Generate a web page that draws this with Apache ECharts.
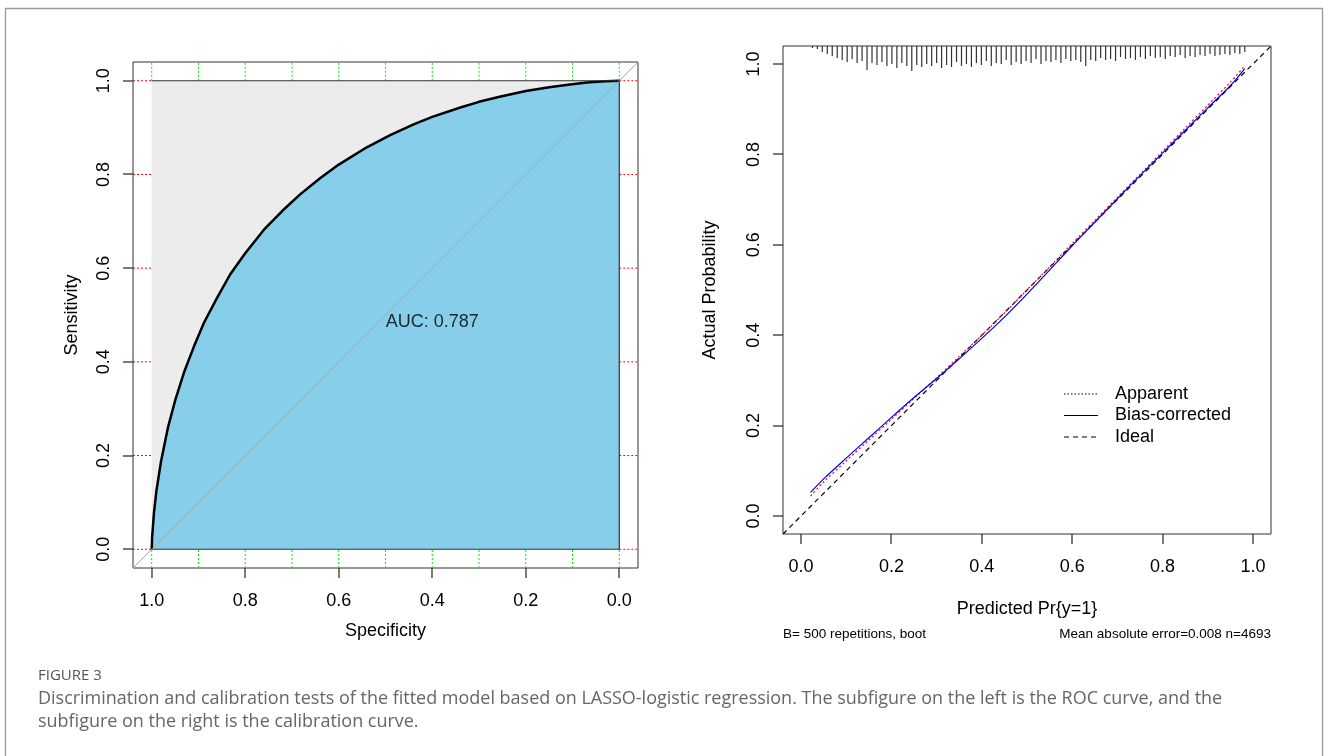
<!DOCTYPE html>
<html>
<head>
<meta charset="utf-8">
<script src="https://cdn.jsdelivr.net/npm/echarts@6/dist/echarts.min.js"></script>
<style>
  html, body { margin: 0; padding: 0; background: #fff; }
  #chart { width: 1328px; height: 756px; }
</style>
</head>
<body>
<div id="chart"></div>
<script>
// ---------------- DATA ----------------
// ROC curve (left panel): specificity (x, reversed) and sensitivity (y)
const rocSpec = [1.000,0.999,0.995,0.990,0.980,0.965,0.950,0.930,0.910,0.888,0.860,0.832,0.800,0.760,0.720,0.682,0.640,0.600,0.540,0.490,0.440,0.400,0.340,0.300,0.256,0.200,0.150,0.114,0.070,0.030,0.000];
const rocSens = [0.000,0.027,0.080,0.124,0.188,0.261,0.317,0.380,0.432,0.484,0.537,0.587,0.632,0.682,0.723,0.758,0.792,0.821,0.858,0.884,0.907,0.923,0.943,0.955,0.966,0.978,0.986,0.991,0.996,0.999,1.000];
const aucText = 'AUC: 0.787';

// Calibration curve (right panel)
const calPred     = [0.021,0.05,0.10,0.15,0.20,0.25,0.30,0.35,0.40,0.45,0.50,0.55,0.60,0.65,0.70,0.75,0.80,0.85,0.90,0.95,0.982];
const apparentY   = [0.044,0.075,0.122,0.168,0.214,0.260,0.306,0.353,0.400,0.449,0.500,0.551,0.603,0.654,0.705,0.756,0.807,0.858,0.909,0.960,0.996];
const biasCorrY   = [0.052,0.082,0.128,0.173,0.218,0.262,0.304,0.348,0.393,0.440,0.491,0.544,0.598,0.650,0.702,0.753,0.803,0.853,0.903,0.952,0.990];

// Rug (distribution of predicted probabilities) along the top of the calibration plot
const rugX = [0.025,0.036,0.047,0.058,0.069,0.080,0.091,0.102,0.113,0.124,0.135,0.146,0.157,0.168,0.179,0.190,0.201,0.212,0.223,0.234,0.245,0.256,0.267,0.278,0.289,0.300,0.311,0.322,0.333,0.344,0.355,0.366,0.377,0.388,0.399,0.410,0.421,0.432,0.443,0.454,0.465,0.476,0.487,0.498,0.509,0.520,0.531,0.542,0.553,0.564,0.575,0.586,0.597,0.608,0.619,0.630,0.641,0.652,0.663,0.674,0.685,0.696,0.707,0.718,0.729,0.740,0.751,0.762,0.773,0.784,0.795,0.806,0.817,0.828,0.839,0.850,0.861,0.872,0.883,0.894,0.905,0.916,0.927,0.938,0.949,0.960,0.971,0.982];
const rugFreq = [2,3,6,8,10,12,14,16,13,17,15,24,17,19,16,20,18,22,17,20,25,19,21,18,20,17,22,19,21,16,20,18,21,17,19,15,20,17,18,14,19,16,18,15,17,13,18,15,16,14,17,13,15,14,16,20,14,15,12,14,13,15,11,13,12,14,11,13,10,12,11,13,10,11,9,12,10,11,9,10,8,10,9,8,9,7,8,6];

// Tick labels / grid marks
const axisTicks = [0, 0.2, 0.4, 0.6, 0.8, 1.0];
const greenGrid = [0, 0.1, 0.2, 0.3, 0.4, 0.5, 0.6, 0.7, 0.8, 0.9, 1.0];
const redGrid   = [0, 0.2, 0.4, 0.6, 0.8, 1.0];

const legendItems = ['Apparent', 'Bias-corrected', 'Ideal'];
const footLeft  = 'B= 500 repetitions, boot';
const footRight = 'Mean absolute error=0.008 n=4693';
const captionTitle = 'FIGURE 3';
const captionLine1 = 'Discrimination and calibration tests of the fitted model based on LASSO-logistic regression. The subfigure on the left is the ROC curve, and the';
const captionLine2 = 'subfigure on the right is the calibration curve.';

// ---------------- LAYOUT / STYLE ----------------
const FONT = "'Liberation Sans', Arial, Helvetica, sans-serif";
const LO = -0.04, HI = 1.04;
const RUG_UNIT = 0.00221;
const TICK_LEN = 10;
const GRIDS = [
  { left: 133, top: 62, width: 505, height: 506, xInverse: true },
  { left: 783, top: 46, width: 488, height: 488, xInverse: false }
];

function mkXAxis(gi, inverse, name, gap) {
  return {
    type: 'value', gridIndex: gi, min: LO, max: HI, inverse: inverse,
    name: name, nameLocation: 'middle', nameGap: gap,
    nameTextStyle: { fontSize: 18, color: '#000', fontFamily: FONT },
    axisLine: { show: false, onZero: false },
    splitLine: { show: false },
    axisTick: { show: false },
    axisLabel: { show: true, customValues: axisTicks, margin: 24, fontSize: 18, color: '#000', fontFamily: FONT,
                 formatter: v => Number(v).toFixed(1) }
  };
}
function mkYAxis(gi, name, gap) {
  return {
    type: 'value', gridIndex: gi, min: LO, max: HI,
    name: name, nameLocation: 'middle', nameGap: gap,
    nameTextStyle: { fontSize: 18, color: '#000', fontFamily: FONT },
    axisLine: { show: false, onZero: false },
    splitLine: { show: false },
    axisTick: { show: false },
    axisLabel: { show: true, customValues: axisTicks, margin: 20, rotate: 90, fontSize: 18, color: '#000', fontFamily: FONT,
                 formatter: v => Number(v).toFixed(1) }
  };
}

function seg(p1, p2, stroke, dash, w) {
  return { type: 'line', shape: { x1: p1[0], y1: p1[1], x2: p2[0], y2: p2[1] },
           style: { stroke: stroke, lineWidth: w || 1, lineDash: dash || null } };
}

// caption font fitting
function fitFont(text, family, targetWidth, base) {
  const c = document.createElement('canvas').getContext('2d');
  c.font = base + 'px ' + family;
  const w = c.measureText(text).width;
  return base * targetWidth / w;
}
const CAP_FONT = "'Open Sans', 'Noto Sans', sans-serif";
const capSize = Math.min(18, fitFont(captionLine1, CAP_FONT, 1185, 17));

// R-style outward ticks, mapped with ECharts' own linear scale helper
const linearMap = echarts.number.linearMap;
const tickGfx = [];
GRIDS.forEach((g, gi) => {
  const xr = g.xInverse ? [g.left + g.width, g.left] : [g.left, g.left + g.width];
  const yr = [g.top + g.height, g.top];
  const bottom = g.top + g.height, leftEdge = g.left;
  axisTicks.forEach((v, k) => {
    const px = Math.round(linearMap(v, [LO, HI], xr, true));
    const py = Math.round(linearMap(v, [LO, HI], yr, true));
    tickGfx.push({ type: 'rect', id: 'tb' + gi + '_' + k, z: 200, silent: true,
      shape: { x: px - 0.6, y: bottom, width: 1.2, height: TICK_LEN }, style: { fill: '#222', stroke: null } });
    tickGfx.push({ type: 'rect', id: 'tl' + gi + '_' + k, z: 200, silent: true,
      shape: { x: leftEdge - TICK_LEN, y: py - 0.6, width: TICK_LEN, height: 1.2 }, style: { fill: '#222', stroke: null } });
  });
});

const chart = echarts.init(document.getElementById('chart'), null, { renderer: 'canvas' });

const graphics = [
  // outer frame
  { type: 'rect', id: 'frame', z: 100, silent: true, shape: { x: 5.5, y: 8.5, width: 1317, height: 800 },
    style: { fill: null, stroke: '#9a9a9a', lineWidth: 1.3 } },
  // legend (calibration panel)
  { type: 'line', id: 'lg1', z: 100, shape: { x1: 1064, y1: 394, x2: 1098, y2: 394 }, style: { stroke: '#000', lineWidth: 1, lineDash: [1.5, 2] } },
  { type: 'line', id: 'lg2', z: 100, shape: { x1: 1064, y1: 415.5, x2: 1098, y2: 415.5 }, style: { stroke: '#000', lineWidth: 1.2 } },
  { type: 'line', id: 'lg3', z: 100, shape: { x1: 1064, y1: 437, x2: 1098, y2: 437 }, style: { stroke: '#000', lineWidth: 1.2, lineDash: [5, 4] } },
  { type: 'text', id: 'lt1', z: 100, x: 1115, y: 394, style: { text: legendItems[0], font: '18px ' + FONT, fill: '#000', verticalAlign: 'middle' } },
  { type: 'text', id: 'lt2', z: 100, x: 1115, y: 415.5, style: { text: legendItems[1], font: '18px ' + FONT, fill: '#000', verticalAlign: 'middle' } },
  { type: 'text', id: 'lt3', z: 100, x: 1115, y: 437, style: { text: legendItems[2], font: '18px ' + FONT, fill: '#000', verticalAlign: 'middle' } },
  // footnotes
  { type: 'text', id: 'f1', z: 100, x: 783, y: 634, style: { text: footLeft, font: '13.5px ' + FONT, fill: '#000', verticalAlign: 'middle', align: 'left' } },
  { type: 'text', id: 'f2', z: 100, x: 1271, y: 634, style: { text: footRight, font: '13.5px ' + FONT, fill: '#000', verticalAlign: 'middle', align: 'right' } },
  // caption
  { type: 'text', id: 'c0', z: 100, x: 38, y: 676, style: { text: captionTitle, font: '15px ' + CAP_FONT, fill: '#555', verticalAlign: 'middle' } },
  { type: 'text', id: 'c1', z: 100, x: 38, y: 699, style: { text: captionLine1, font: capSize.toFixed(2) + 'px ' + CAP_FONT, fill: '#666', verticalAlign: 'middle' } },
  { type: 'text', id: 'c2', z: 100, x: 38, y: 722, style: { text: captionLine2, font: capSize.toFixed(2) + 'px ' + CAP_FONT, fill: '#666', verticalAlign: 'middle' } }
].concat(tickGfx);

const option = {
  animation: false,
  backgroundColor: '#fff',
  textStyle: { fontFamily: FONT },
  grid: GRIDS.map(g => ({ left: g.left, top: g.top, width: g.width, height: g.height, show: true,
                          borderColor: '#333', borderWidth: 1, backgroundColor: 'transparent' })),
  xAxis: [ mkXAxis(0, true, 'Specificity', 54), mkXAxis(1, false, 'Predicted Pr{y=1}', 66) ],
  yAxis: [ mkYAxis(0, 'Sensitivity', 52), mkYAxis(1, 'Actual Probability', 64) ],
  series: [
    // green dotted grid marks (top/bottom strips)
    { type: 'custom', xAxisIndex: 0, yAxisIndex: 0, z: 1, silent: true,
      data: greenGrid.map(v => [v, 0]),
      encode: { x: 0, y: 1 },
      renderItem: (params, api) => {
        const v = api.value(0);
        return { type: 'group', children: [
          seg(api.coord([v, 1.0]), api.coord([v, HI]), '#00ee00', [2, 2]),
          seg(api.coord([v, LO]), api.coord([v, 0]), '#00ee00', [2, 2])
        ]};
      } },
    // red dotted grid marks (left/right strips)
    { type: 'custom', xAxisIndex: 0, yAxisIndex: 0, z: 1, silent: true,
      data: redGrid.map(v => [0, v]),
      encode: { x: 0, y: 1 },
      renderItem: (params, api) => {
        const v = api.value(1);
        return { type: 'group', children: [
          seg(api.coord([HI, v]), api.coord([1.0, v]), '#ff0000', [2, 2]),
          seg(api.coord([0, v]), api.coord([LO, v]), '#ff0000', [2, 2])
        ]};
      } },
    // gray max-AUC square
    { type: 'line', xAxisIndex: 0, yAxisIndex: 0, z: 2, silent: true, symbol: 'none',
      data: [[1, 1], [0, 1]],
      lineStyle: { width: 0 },
      areaStyle: { color: '#ececec', opacity: 1, origin: 0 } },
    // ROC curve with skyblue AUC polygon
    { type: 'line', xAxisIndex: 0, yAxisIndex: 0, z: 3, silent: true, symbol: 'none',
      data: rocSpec.map((s, i) => [s, rocSens[i]]),
      lineStyle: { color: '#000', width: 2.5, join: 'round' },
      areaStyle: { color: '#87ceeb', opacity: 1, origin: 0 } },
    // identity diagonal
    { type: 'line', xAxisIndex: 0, yAxisIndex: 0, z: 4, silent: true, symbol: 'none',
      data: [[HI, LO], [LO, HI]],
      lineStyle: { color: '#a9a9a9', width: 1 } },
    // square outline
    { type: 'line', xAxisIndex: 0, yAxisIndex: 0, z: 5, silent: true, symbol: 'none',
      data: [[1, 0], [0, 0], [0, 1], [1, 1]],
      lineStyle: { color: '#333', width: 1.2 } },
    // AUC label
    { type: 'scatter', xAxisIndex: 0, yAxisIndex: 0, z: 6, silent: true,
      data: [[0.4, 0.485]], symbol: 'circle', symbolSize: 1,
      itemStyle: { color: 'rgba(0,0,0,0)' },
      label: { show: true, position: 'inside', formatter: aucText, fontSize: 18, color: '#000', fontFamily: FONT } },

    // ---- calibration panel ----
    { type: 'line', name: 'Ideal', xAxisIndex: 1, yAxisIndex: 1, z: 2, silent: true, symbol: 'none',
      data: [[LO, LO], [HI, HI]],
      lineStyle: { color: '#000', width: 1.2, type: [5, 4] } },
    { type: 'line', name: 'Apparent', xAxisIndex: 1, yAxisIndex: 1, z: 3, silent: true, symbol: 'none',
      smooth: 0.3,
      data: calPred.map((x, i) => [x, apparentY[i]]),
      lineStyle: { color: '#ff0000', width: 1.2, type: [2, 2.5] } },
    { type: 'line', name: 'Bias-corrected', xAxisIndex: 1, yAxisIndex: 1, z: 4, silent: true, symbol: 'none',
      smooth: 0.3,
      data: calPred.map((x, i) => [x, biasCorrY[i]]),
      lineStyle: { color: '#0000ff', width: 1.2 } },
    // rug
    { type: 'custom', xAxisIndex: 1, yAxisIndex: 1, z: 5, silent: true,
      data: rugX.map((x, i) => [x, rugFreq[i]]),
      encode: { x: 0, y: 1 },
      renderItem: (params, api) => {
        const x = api.value(0), f = api.value(1);
        return seg(api.coord([x, HI]), api.coord([x, HI - f * RUG_UNIT]), '#333', null, 1.2);
      } }
  ],
  graphic: { elements: graphics }
};
chart.setOption(option);
</script>
</body>
</html>
